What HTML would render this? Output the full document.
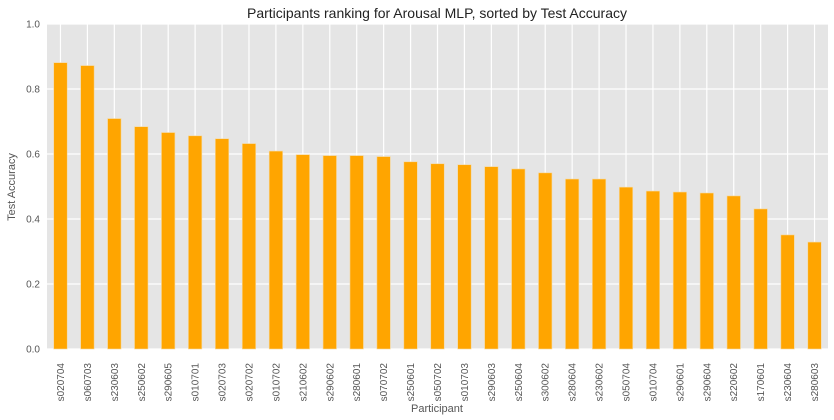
<!DOCTYPE html>
<html><head><meta charset="utf-8"><style>
html,body{margin:0;padding:0;background:#fff;}
svg{display:block;font-family:"Liberation Sans",Arial,sans-serif;}
</style></head><body>
<svg id="chart" width="834" height="420">
<rect x="47" y="24" width="781" height="325" fill="#e5e5e5"/>
<g id="grid"></g><g id="bars"></g><g id="xticks"></g><g id="yticks"></g>
<text x="437" y="18" text-anchor="middle" font-size="14" fill="#222">Participants ranking for Arousal MLP, sorted by Test Accuracy</text>
<text x="437" y="412" text-anchor="middle" font-size="11" fill="#555">Participant</text>
<text transform="translate(15,187) rotate(-90)" text-anchor="middle" font-size="11" fill="#555">Test Accuracy</text>
</svg>
<script>
const categories=["s020704","s060703","s230603","s250602","s290605","s010701","s020703","s020702","s010702","s210602","s290602","s280601","s070702","s250601","s050702","s010703","s290603","s250604","s300602","s280604","s230602","s050704","s010704","s290601","s290604","s220602","s170601","s230604","s280603"];
const values=[0.881,0.872,0.709,0.684,0.666,0.656,0.647,0.632,0.609,0.598,0.595,0.595,0.592,0.576,0.570,0.567,0.561,0.554,0.542,0.523,0.523,0.498,0.486,0.483,0.480,0.471,0.431,0.351,0.329];
const yTicks=[0,0.2,0.4,0.6,0.8,1.0];
const yTickLabels=["0.0","0.2","0.4","0.6","0.8","1.0"];
const NS="http://www.w3.org/2000/svg";
const L=47,R=828,T=24,B=349;
const step=(R-L)/categories.length;
function xs(i){return L+step*(i+0.5);}
function ys(v){return B-(B-T)*v;}
const grid=document.getElementById('grid'),bars=document.getElementById('bars'),xt=document.getElementById('xticks'),yt=document.getElementById('yticks');
function mk(tag,attrs){const e=document.createElementNS(NS,tag);for(const k in attrs)e.setAttribute(k,attrs[k]);return e;}
yTicks.forEach((v,i)=>{
  const l=mk('line',{x1:L,x2:R,y1:ys(v),y2:ys(v),stroke:'#fff','stroke-width':1.2});
  
  
  grid.appendChild(l);
  const t=mk('text',{x:L-7,y:ys(v)+3.5,'text-anchor':'end','font-size':10,fill:'#555'});
  t.textContent=yTickLabels[i];
  
  
  yt.appendChild(t);
});
categories.forEach((c,i)=>{
  const x=xs(i);
  const g=mk('line',{x1:x,x2:x,y1:T,y2:B,stroke:'#fff','stroke-width':1.2});
  
  
  grid.appendChild(g);
  const w=step*0.5;
  const b=mk('rect',{x:x-w/2,y:ys(values[i]),width:w,height:B-ys(values[i]),fill:'#ffa500',stroke:'#f5d9a0','stroke-width':0.6});
  
  
  bars.appendChild(b);
  const t=mk('text',{transform:`translate(${x+3.5},${B+14}) rotate(-90)`,'text-anchor':'end','font-size':10,fill:'#555'});
  t.textContent=c;
  
  
  xt.appendChild(t);
});
</script>
</body></html>
